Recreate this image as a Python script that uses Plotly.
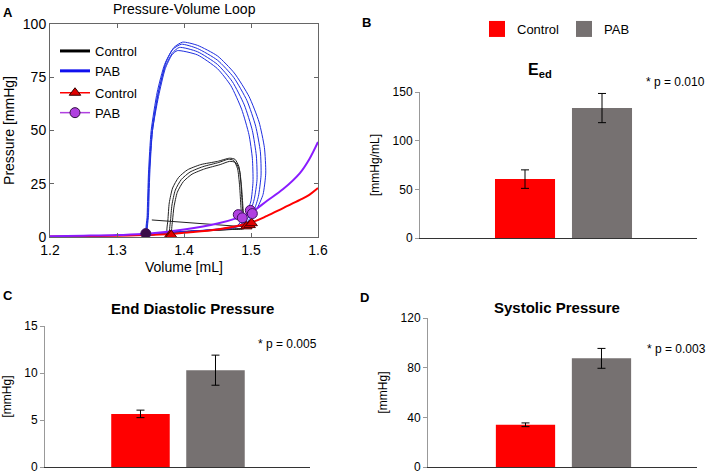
import plotly.graph_objects as go

W, H = 709, 476

# ---- panel A: pressure-volume loops ----
blue_v = [
    [1.345, 1.346, 1.348, 1.353, 1.362, 1.373, 1.385, 1.398, 1.42, 1.45, 1.475, 1.497, 1.512, 1.52, 1.522, 1.518, 1.51, 1.502, 1.49, 1.47, 1.44, 1.40, 1.37, 1.345],
    [1.344, 1.345, 1.347, 1.351, 1.360, 1.371, 1.383, 1.396, 1.42, 1.45, 1.474, 1.494, 1.507, 1.514, 1.515, 1.511, 1.505, 1.497, 1.487, 1.47, 1.44, 1.40, 1.37, 1.344],
    [1.345, 1.346, 1.348, 1.352, 1.361, 1.372, 1.383, 1.393, 1.42, 1.45, 1.472, 1.490, 1.502, 1.508, 1.509, 1.505, 1.499, 1.492, 1.483, 1.46, 1.43, 1.40, 1.37, 1.345],
    [1.346, 1.347, 1.349, 1.353, 1.362, 1.372, 1.382, 1.390, 1.42, 1.45, 1.470, 1.486, 1.497, 1.502, 1.503, 1.500, 1.494, 1.488, 1.480, 1.46, 1.43, 1.40, 1.37, 1.346],
]
blue_p = [
    [1.0, 10, 30, 50, 68, 82, 89, 91.5, 90, 85, 77, 66, 54, 42, 30, 20, 14, 10, 6, 4.0, 3.2, 2.4, 1.8, 1.0],
    [1.2, 10, 30, 50, 68, 81, 88, 90.5, 88.5, 83, 75, 64, 52, 40, 29, 19, 13, 9.5, 6, 4.2, 3.3, 2.5, 1.9, 1.2],
    [1.1, 10, 30, 50, 67, 80, 86.5, 89, 87, 81, 73, 62, 50, 38, 27, 18, 12, 9, 5.5, 4.0, 3.1, 2.4, 1.8, 1.1],
    [1.3, 10, 30, 50, 66, 79, 85.5, 87.5, 85.5, 79, 71, 60, 48, 37, 26, 17, 11.5, 8.5, 5.5, 4.1, 3.2, 2.5, 1.9, 1.3],
]
black_v = [
    [1.375, 1.376, 1.378, 1.383, 1.392, 1.405, 1.425, 1.45, 1.468, 1.476, 1.482, 1.485, 1.487, 1.489, 1.49, 1.47, 1.44, 1.41, 1.39, 1.375],
    [1.379, 1.380, 1.382, 1.387, 1.396, 1.409, 1.428, 1.452, 1.466, 1.474, 1.480, 1.483, 1.485, 1.487, 1.489, 1.47, 1.44, 1.41, 1.39, 1.379],
    [1.382, 1.383, 1.385, 1.390, 1.399, 1.412, 1.431, 1.454, 1.468, 1.477, 1.483, 1.486, 1.488, 1.490, 1.492, 1.47, 1.44, 1.41, 1.39, 1.382],
]
black_p = [
    [2.0, 8, 16, 23, 28, 31.5, 34, 35.5, 37, 36.5, 33, 25, 15, 7, 4, 3.5, 3.0, 2.6, 2.2, 2.0],
    [2.2, 8, 15, 22, 27, 30.5, 33, 35, 36.5, 36, 32, 24, 14, 7, 4.2, 3.6, 3.1, 2.7, 2.3, 2.2],
    [2.4, 8, 14, 21, 26, 29.5, 32, 34, 35.5, 35, 31, 23, 14, 7, 4.4, 3.8, 3.2, 2.8, 2.5, 2.4],
]
tail_v = [1.352, 1.40, 1.45, 1.49]
tail_p = [8.0, 6.8, 5.6, 4.8]

edpvr_v_pab = [1.2, 1.25, 1.3, 1.345, 1.4, 1.45, 1.48, 1.5, 1.524, 1.548, 1.573, 1.587, 1.6]
edpvr_p_pab = [0.4, 0.6, 0.9, 1.5, 3.5, 6.3, 9.0, 11.5, 17.0, 22.5, 30.0, 36.5, 44.6]
edpvr_v_ctl = [1.2, 1.25, 1.3, 1.35, 1.38, 1.4, 1.45, 1.5, 1.524, 1.548, 1.573, 1.587, 1.6]
edpvr_p_ctl = [0.2, 0.4, 0.6, 1.0, 1.4, 2.0, 3.5, 6.8, 9.9, 13.6, 17.4, 19.8, 23.0]

ed_pts_pab_v = [1.343, 1.481, 1.487, 1.499, 1.502]
ed_pts_pab_p = [1.6, 10.5, 9.0, 12.5, 11.0]
ed_pts_ctl_v = [1.379, 1.381, 1.493, 1.498, 1.501]
ed_pts_ctl_p = [0.9, 0.9, 5.0, 5.6, 6.5]

# ---- panels B-D: bar charts ----
groups = ["Control", "PAB"]
eed_mean = [60.5, 133.5]
eed_err = [9.5, 15]
edp_mean = [5.65, 10.3]
edp_err = [0.4, 1.6]
sys_mean = [34, 87.5]
sys_err = [1.5, 8]

bar_colors = ["#ff0000", "#767171"]
FONT = "Liberation Sans, Arial, sans-serif"

fig = go.Figure()

for v, p in zip(black_v, black_p):
    fig.add_trace(go.Scatter(x=v, y=p, mode="lines", line=dict(color="#222222", width=1, shape="spline", smoothing=0.6),
                             showlegend=False, hoverinfo="skip"))
fig.add_trace(go.Scatter(x=tail_v, y=tail_p, mode="lines", line=dict(color="#222222", width=1),
                         showlegend=False, hoverinfo="skip"))
for v, p in zip(blue_v, blue_p):
    fig.add_trace(go.Scatter(x=v, y=p, mode="lines", line=dict(color="#1f2fe0", width=1, shape="spline", smoothing=0.6),
                             showlegend=False, hoverinfo="skip"))
fig.add_trace(go.Scatter(x=edpvr_v_ctl, y=edpvr_p_ctl, mode="lines", line=dict(color="#ff0000", width=2, shape="spline"),
                         showlegend=False))
fig.add_trace(go.Scatter(x=edpvr_v_pab, y=edpvr_p_pab, mode="lines", line=dict(color="#8a1cff", width=2, shape="spline"),
                         showlegend=False))
fig.add_trace(go.Scatter(x=ed_pts_ctl_v, y=ed_pts_ctl_p, mode="markers",
                         marker=dict(symbol="triangle-up", size=10, color="#e00000", line=dict(color="#550000", width=1)),
                         showlegend=False))
fig.add_trace(go.Scatter(x=ed_pts_pab_v, y=ed_pts_pab_p, mode="markers",
                         marker=dict(symbol="circle", size=10, color=["#3a0c48"] + ["#b040e0"] * 4,
                                     line=dict(color="#401060", width=1)),
                         showlegend=False))

# legend entries for panel A
fig.add_trace(go.Scatter(x=[None], y=[None], mode="lines", name="Control", line=dict(color="black", width=3),
                         legendgroup="loops"))
fig.add_trace(go.Scatter(x=[None], y=[None], mode="lines", name="PAB", line=dict(color="#1010ee", width=3),
                         legendgroup="loops"))
fig.add_trace(go.Scatter(x=[None], y=[None], mode="lines+markers", name="Control", line=dict(color="#ff0000", width=1.5),
                         marker=dict(symbol="triangle-up", size=10, color="#e00000", line=dict(color="#330000", width=1)),
                         legendgroup="edp"))
fig.add_trace(go.Scatter(x=[None], y=[None], mode="lines+markers", name="PAB", line=dict(color="#b040e0", width=1.5),
                         marker=dict(symbol="circle", size=10, color="#b040e0", line=dict(color="#301040", width=1)),
                         legendgroup="edp"))

# legend entries for the bar panels (square swatches)
for i in range(2):
    fig.add_trace(go.Scatter(x=[None], y=[None], mode="markers", name=groups[i],
                             marker=dict(symbol="square", size=16, color=bar_colors[i]),
                             xaxis="x2", yaxis="y2", legend="legend2"))

# bar panels
for k, (mean, err) in enumerate([(eed_mean, eed_err), (edp_mean, edp_err), (sys_mean, sys_err)]):
    ax = str(k + 2)
    for i in range(2):
        fig.add_trace(go.Bar(x=[i], y=[mean[i]], name=groups[i], marker=dict(color=bar_colors[i], line=dict(width=0)),
                             width=0.78,
                             error_y=dict(type="data", array=[err[i]], color="black", thickness=1, width=4),
                             xaxis="x" + ax, yaxis="y" + ax, showlegend=False))


def px_x(p):
    return p / W


def px_y(p):
    return 1 - p / H


axA = dict(showline=True, linecolor="#666666", linewidth=1, mirror="ticks", ticks="inside", ticklen=4,
           tickcolor="#666666", showgrid=False, zeroline=False, automargin=False,
           tickfont=dict(size=14, color="black"))
axBar_y = dict(showline=True, linecolor="#999999", linewidth=1, ticks="outside", ticklen=4, tickcolor="#999999",
               showgrid=False, zeroline=False, automargin=False, tickfont=dict(size=12, color="black"))
axBar_x = dict(showline=True, linecolor="#333333", linewidth=1, showticklabels=False, ticks="",
               showgrid=False, zeroline=False, automargin=False)

fig.update_layout(
    width=W, height=H, autosize=False, margin=dict(l=0, r=0, t=0, b=0),
    paper_bgcolor="white", plot_bgcolor="white",
    font=dict(family=FONT, color="black"),
    barmode="overlay",
    xaxis=dict(axA, domain=[px_x(50), px_x(318)], range=[1.2, 1.6], dtick=0.1, tickformat=".1f", anchor="y"),
    yaxis=dict(axA, domain=[px_y(237), px_y(24)], range=[0, 100], dtick=25, anchor="x",
               title=dict(text="Pressure [mmHg]", font=dict(size=14), standoff=4)),
    xaxis2=dict(axBar_x, domain=[px_x(420), px_x(697)], range=[-1.364, 2.234], anchor="y2"),
    yaxis2=dict(axBar_y, domain=[px_y(238), px_y(92)], range=[0, 150], dtick=50, anchor="x2",
                title=dict(text="[mmHg/mL]", font=dict(size=12), standoff=10)),
    xaxis3=dict(axBar_x, domain=[px_x(45), px_x(310)], range=[-1.273, 2.26], anchor="y3"),
    yaxis3=dict(axBar_y, domain=[px_y(467), px_y(326)], range=[0, 15], dtick=5, anchor="x3",
                title=dict(text="[mmHg]", font=dict(size=12), standoff=14)),
    xaxis4=dict(axBar_x, domain=[px_x(428), px_x(697)], range=[-1.283, 2.257], anchor="y4"),
    yaxis4=dict(axBar_y, domain=[px_y(467), px_y(318)], range=[0, 120], dtick=40, anchor="x4",
                title=dict(text="[mmHg]", font=dict(size=12), standoff=10)),
    legend=dict(x=px_x(55), y=px_y(36), xanchor="left", yanchor="top", bgcolor="rgba(0,0,0,0)",
                font=dict(size=13), tracegroupgap=2, itemwidth=30),
    legend2=dict(x=px_x(477), y=px_y(29), xanchor="left", yanchor="middle", orientation="h",
                 bgcolor="rgba(0,0,0,0)", font=dict(size=13), itemwidth=30),
)

ann = [
    dict(x=px_x(8), y=px_y(12), text="<b>A</b>", size=13),
    dict(x=px_x(184), y=px_y(9), text="Pressure-Volume Loop", size=14),
    dict(x=px_x(184), y=px_y(267), text="Volume [mL]", size=14),
    dict(x=px_x(366), y=px_y(22), text="<b>B</b>", size=13),
    dict(x=px_x(540), y=px_y(70), text="<b>E<sub>ed</sub></b>", size=16),
    dict(x=px_x(675), y=px_y(82), text="* p = 0.010", size=12),
    dict(x=px_x(8), y=px_y(295), text="<b>C</b>", size=13),
    dict(x=px_x(192), y=px_y(308), text="<b>End Diastolic Pressure</b>", size=15),
    dict(x=px_x(287), y=px_y(344), text="* p = 0.005", size=12),
    dict(x=px_x(364), y=px_y(297), text="<b>D</b>", size=13),
    dict(x=px_x(557), y=px_y(307), text="<b>Systolic Pressure</b>", size=15),
    dict(x=px_x(676), y=px_y(349), text="* p = 0.003", size=12),
]
for a in ann:
    fig.add_annotation(x=a["x"], y=a["y"], xref="paper", yref="paper", text=a["text"], showarrow=False,
                       font=dict(size=a["size"], family=FONT, color="black"), xanchor="center", yanchor="middle")

fig.write_html("out.html", config={"responsive": False, "displayModeBar": False},
               post_script="document.body.style.margin='0'; document.body.style.overflow='hidden';")
